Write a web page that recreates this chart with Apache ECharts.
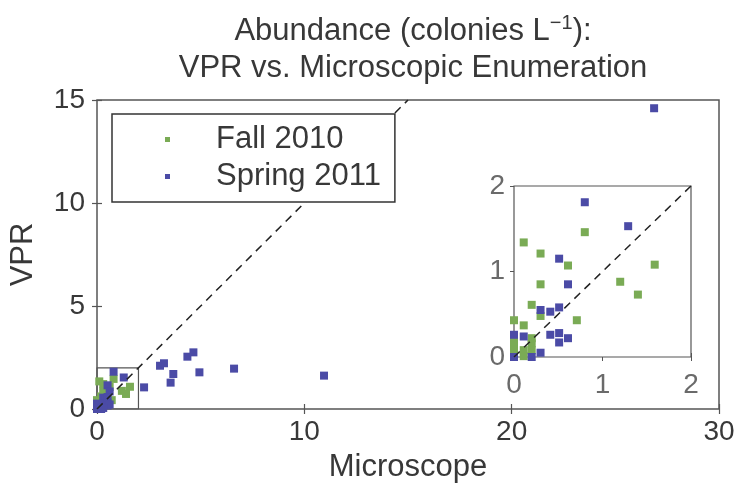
<!DOCTYPE html>
<html>
<head>
<meta charset="utf-8">
<script src="https://cdn.jsdelivr.net/npm/echarts@6/dist/echarts.min.js"></script>
<style>html,body{margin:0;padding:0;background:#fff;}#c{width:740px;height:489px;}</style>
</head>
<body>
<div id="c"></div>
<script>
// ---- data ----
const seriesNames = ['Fall 2010', 'Spring 2011'];
const fallX = [0.11, 0.30, 0.61, 0.80, 1.59, 1.20, 1.40, 0.30, 0.20, 0.30, 0.71, 0.00, 0.11, 0.00, 0.20, 0.00, 0.11, 0.20, 0.11, 0.20, 0.00];
const fallY = [1.34, 1.21, 1.07, 1.46, 1.08, 0.88, 0.73, 0.85, 0.61, 0.48, 0.43, 0.43, 0.37, 0.21, 0.16, 0.08, 0.08, 0.08, 0.01, 0.22, 0.14];
const springX = [0.80, 1.29, 0.51, 0.61, 0.30, 0.41, 0.51, 0.41, 0.51, 0.51, 0.61, 0.11, 0.00, 0.30, 0.00, 0.20, 2.27, 3.04, 3.23, 3.55, 3.68, 4.36, 4.65, 4.94, 6.61, 10.95, 26.87];
const springY = [1.81, 1.53, 1.15, 0.85, 0.55, 0.53, 0.58, 0.26, 0.28, 0.17, 0.22, 0.24, 0.26, 0.05, 0.00, 0.00, 1.05, 2.10, 2.22, 1.28, 1.70, 2.54, 2.75, 1.78, 1.96, 1.62, 14.60];
const oneToOneMain = [[0, 0], [15, 15]];
const oneToOneInset = [[0, 0], [2, 2]];
const zoomBox = [[0, 0], [2, 0], [2, 2], [0, 2], [0, 0]];
const mainXTicks = [0, 30, 10];   // min, max, interval
const mainYTicks = [0, 15, 5];
const insetTicks = [0, 2, 1];

const pts = (xs, ys) => xs.map((x, i) => [x, ys[i]]);
const fallPts = pts(fallX, fallY);
const springPts = pts(springX, springY);

const FONT = '"Liberation Sans", Arial, Helvetica, sans-serif';
const GREEN = '#7aab55';
const BLUE = '#4b4ba6';
const TXT = '#383838';
const FRAME = '#555555';

function axis(type, grid, pos, t, opts) {
  const o = Object.assign({
    type: 'value', gridIndex: grid, position: pos,
    min: t[0], max: t[1], interval: t[2],
    splitLine: { show: false },
    axisLine: { show: false },
    axisTick: { show: true, inside: true, length: 5, lineStyle: { color: FRAME, width: 1.2 } },
    axisLabel: { show: false }
  }, opts || {});
  return o;
}

const chart = echarts.init(document.getElementById('c'), null, { renderer: 'canvas' });
chart.setOption({
  animation: false,
  backgroundColor: '#fff',
  textStyle: { fontFamily: FONT },
  title: {
    left: 408, top: 8, textAlign: 'center',
    text: 'Abundance (colonies L{sup|−1}):\nVPR vs. Microscopic Enumeration',
    textStyle: {
      fontFamily: FONT, fontSize: 31, fontWeight: 'normal', color: TXT, lineHeight: 37,
      rich: { sup: { fontFamily: FONT, fontSize: 20, color: TXT, padding: [0, 0, 16, 0] } }
    }
  },
  legend: {
    data: seriesNames,
    orient: 'vertical',
    left: 112, top: 114,
    padding: [9, 14, 9, 53],
    itemWidth: 5, itemHeight: 5, itemGap: 4,
    icon: 'rect',
    backgroundColor: '#fff',
    borderColor: '#333', borderWidth: 1.5,
    z: 10,
    selectedMode: false,
    textStyle: { fontFamily: FONT, fontSize: 31, color: TXT, lineHeight: 33, padding: [0, 0, 0, 41] }
  },
  grid: [
    { left: 97, top: 100, width: 622, height: 309, show: true, borderColor: FRAME, borderWidth: 1.5, backgroundColor: 'transparent' },
    { left: 514, top: 186, width: 177, height: 171, show: true, borderColor: FRAME, borderWidth: 1.2, backgroundColor: '#fff', z: 5 }
  ],
  xAxis: [
    axis('x', 0, 'bottom', mainXTicks, {
      axisLabel: { show: true, fontSize: 28, color: TXT, margin: 9, fontFamily: FONT },
      name: 'Microscope', nameLocation: 'middle', nameGap: 43,
      nameTextStyle: { fontSize: 31, color: TXT, fontFamily: FONT }
    }),
    axis('x', 0, 'top', mainXTicks),
    axis('x', 1, 'bottom', insetTicks, {
      axisTick: { show: true, inside: true, length: 4, lineStyle: { color: FRAME, width: 1 } },
      axisLabel: { show: true, fontSize: 28, color: '#6a6a6a', margin: 14, fontFamily: FONT }
    }),
    axis('x', 1, 'top', insetTicks, {
      axisTick: { show: true, inside: true, length: 4, lineStyle: { color: FRAME, width: 1 } }
    })
  ],
  yAxis: [
    axis('y', 0, 'left', mainYTicks, {
      axisLabel: { show: true, fontSize: 28, color: TXT, margin: 12, fontFamily: FONT },
      name: 'VPR', nameLocation: 'middle', nameGap: 58, nameRotate: 90,
      nameTextStyle: { fontSize: 31, color: TXT, fontFamily: FONT }
    }),
    axis('y', 0, 'right', mainYTicks),
    axis('y', 1, 'left', insetTicks, {
      axisTick: { show: true, inside: true, length: 4, lineStyle: { color: FRAME, width: 1 } },
      axisLabel: { show: true, fontSize: 28, color: '#6a6a6a', margin: 9, fontFamily: FONT }
    }),
    axis('y', 1, 'right', insetTicks, {
      axisTick: { show: true, inside: true, length: 4, lineStyle: { color: FRAME, width: 1 } }
    })
  ],
  series: [
    { type: 'line', xAxisIndex: 0, yAxisIndex: 0, data: zoomBox, symbol: 'none', silent: true,
      lineStyle: { color: FRAME, width: 1.2 }, z: 1 },
    { name: seriesNames[0], type: 'scatter', xAxisIndex: 0, yAxisIndex: 0, data: fallPts,
      symbol: 'rect', symbolSize: 8, itemStyle: { color: GREEN, opacity: 1 }, z: 2 },
    { name: seriesNames[1], type: 'scatter', xAxisIndex: 0, yAxisIndex: 0, data: springPts,
      symbol: 'rect', symbolSize: 8, itemStyle: { color: BLUE, opacity: 1 }, z: 3 },
    { type: 'line', xAxisIndex: 0, yAxisIndex: 0, data: oneToOneMain, symbol: 'none', silent: true,
      lineStyle: { color: '#222', width: 1.5, type: [8, 6] }, z: 4 },
    { name: seriesNames[0], type: 'scatter', xAxisIndex: 2, yAxisIndex: 2, data: fallPts, clip: true,
      symbol: 'rect', symbolSize: 8, itemStyle: { color: GREEN, opacity: 1 }, z: 6 },
    { name: seriesNames[1], type: 'scatter', xAxisIndex: 2, yAxisIndex: 2, data: springPts, clip: true,
      symbol: 'rect', symbolSize: 8, itemStyle: { color: BLUE, opacity: 1 }, z: 7 },
    { type: 'line', xAxisIndex: 2, yAxisIndex: 2, data: oneToOneInset, symbol: 'none', silent: true,
      lineStyle: { color: '#222', width: 1.5, type: [8, 6] }, z: 8 }
  ]
});
</script>
</body>
</html>
